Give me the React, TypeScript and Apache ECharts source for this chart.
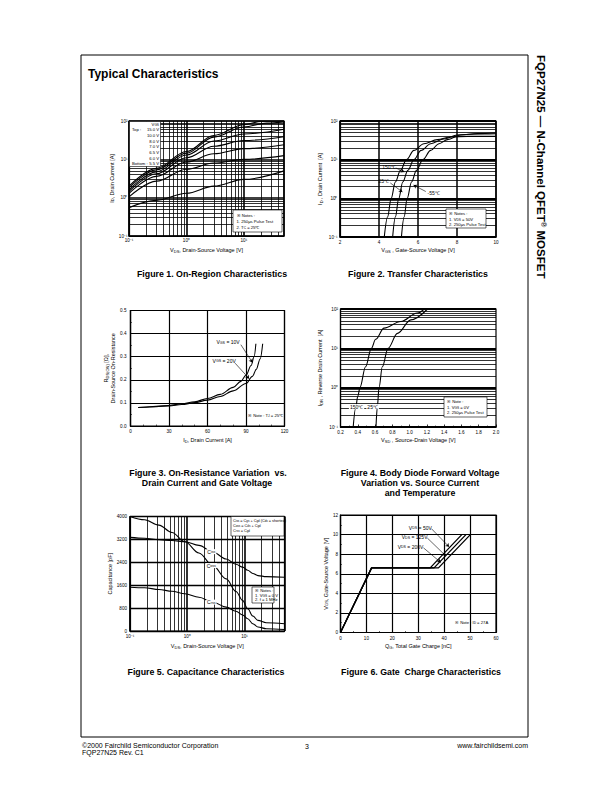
import React, { useEffect, useRef } from "react";
import * as echarts from "echarts";

const FONT = "'Liberation Sans', Arial, Helvetica, sans-serif";
const BLACK = "#000";
type Pt = [number, number];

// ===== Figure 1: On-Region Characteristics (ID vs VDS, log-log) =====
const fig1VgsLabels = ["15.0 V", "10.0 V", "8.0 V", "7.0 V", "6.5 V", "6.0 V", "5.5 V"];
const fig1Vgs15: Pt[] = [[0.1, 2.0], [0.3, 5.8], [1, 16], [3, 42], [10, 80], [20, 98], [50, 100]];
const fig1Vgs10: Pt[] = [[0.1, 1.8], [0.3, 5.3], [1, 14.5], [3, 38], [10, 70], [25, 88], [50, 95]];
const fig1Vgs8: Pt[] = [[0.1, 1.6], [0.3, 4.7], [1, 13], [3, 30], [10, 46], [50, 61]];
const fig1Vgs7: Pt[] = [[0.1, 1.45], [0.3, 4.2], [1, 11], [3, 22], [10, 31], [50, 39]];
const fig1Vgs65: Pt[] = [[0.1, 1.3], [0.3, 3.6], [1, 8.5], [3, 14], [10, 19], [50, 24]];
const fig1Vgs6: Pt[] = [[0.1, 1.05], [0.3, 2.7], [1, 5.5], [3, 8], [10, 10], [50, 12.5]];
const fig1Vgs55: Pt[] = [[0.1, 0.55], [0.3, 0.85], [1, 1.3], [3, 2.0], [10, 3.0], [50, 5.0]];

// ===== Figure 2: Transfer Characteristics (ID vs VGS) =====
const fig2T150: Pt[] = [[4.27, 0.1], [4.44, 0.33], [4.62, 0.98], [4.84, 2.64], [5.1, 5.3], [5.41, 10], [5.79, 17.4], [6.3, 25.9], [6.99, 32.9], [7.68, 38.6], [8.54, 40.1], [10, 40.1]];
const fig2T25: Pt[] = [[4.7, 0.1], [4.84, 0.33], [5.01, 0.98], [5.22, 2.64], [5.48, 5.3], [5.79, 10], [6.16, 17.4], [6.65, 25.9], [7.33, 34.2], [8.02, 43.5], [8.88, 46.1], [10, 47]];
const fig2Tm55: Pt[] = [[5.15, 0.1], [5.29, 0.33], [5.44, 0.98], [5.67, 2.64], [5.92, 5.3], [6.25, 10], [6.65, 17.4], [7.08, 25.9], [7.51, 32.9], [8.19, 43.5], [9.05, 47.1], [10, 48.9]];

// ===== Figure 3: On-Resistance vs Drain Current =====
const fig3Id10 = [6, 10, 20, 30, 40, 50, 60, 70, 80, 86, 90, 94, 96.3, 97.7];
const fig3R10 = [0.080, 0.081, 0.085, 0.089, 0.096, 0.105, 0.119, 0.137, 0.167, 0.193, 0.22, 0.262, 0.3, 0.356];
const fig3Id20 = [6, 10, 20, 30, 40, 50, 60, 70, 80, 90, 95, 98, 101, 103];
const fig3R20 = [0.080, 0.081, 0.084, 0.087, 0.093, 0.101, 0.112, 0.128, 0.152, 0.184, 0.215, 0.245, 0.29, 0.356];

// ===== Figure 4: Body Diode Forward Voltage =====
const fig4T150: Pt[] = [[0.347, 0.1], [0.375, 0.3], [0.4, 0.6], [0.425, 1], [0.49, 3.4], [0.557, 10], [0.607, 17], [0.704, 32.6], [0.898, 48], [1.09, 79], [1.17, 100]];
const fig4T25: Pt[] = [[0.611, 0.1], [0.626, 0.32], [0.646, 1], [0.684, 3.4], [0.75, 10], [0.859, 24], [1.014, 53], [1.208, 100]];

// ===== Figure 5: Capacitance =====
const fig5Vds = [0.1, 0.18, 0.32, 0.54, 0.91, 1.6, 2.8, 4.8, 7.1, 9.3, 11.4, 14, 17.2, 24, 50];
const fig5Ciss = [3270, 3240, 3190, 3160, 3119, 2990, 2760, 2516, 2330, 2230, 2120, 2010, 1936, 1900, 1878];
const fig5Coss = [4000, 3884, 3699, 3443, 3119, 2725, 2284, 1820, 1380, 1067, 777, 522, 371, 290, 255];
const fig5Crss = [1530, 1510, 1449, 1390, 1299, 1180, 1009, 835, 690, 560, 429, 255, 139, 81, 50];

// ===== Figure 6: Gate Charge =====
const fig6Vds50: Pt[] = [[0, 0], [12, 6.6], [34.6, 6.6], [46.8, 10]];
const fig6Vds125: Pt[] = [[0, 0], [12, 6.6], [36.1, 6.6], [48.4, 10]];
const fig6Vds200: Pt[] = [[0, 0], [12, 6.6], [37.8, 6.6], [50.1, 10]];

// ---------- helpers ----------
const SUP: Record<string, string> = { "-": "⁻", "0": "⁰", "1": "¹", "2": "²", "3": "³", "4": "⁴", "5": "⁵", "6": "⁶", "7": "⁷", "8": "⁸", "9": "⁹" };
function decadeLabel(v: number): string {
  const e = Math.log10(v);
  const r = Math.round(e);
  if (Math.abs(e - r) > 1e-6) return "";
  return "10" + String(r).split("").map((c) => SUP[c]).join("");
}
function logMinors(min: number, max: number): number[] {
  const out: number[] = [];
  for (let d = Math.floor(Math.log10(min)); d <= Math.ceil(Math.log10(max)); d++) {
    const base = Math.pow(10, d);
    for (let k = 2; k <= 9; k++) {
      const v = +(k * base).toPrecision(6);
      if (v > min * 1.0001 && v < max * 0.9999) out.push(v);
    }
  }
  return out;
}

const GRIDS = [
  { left: 129, top: 121, width: 155, height: 115 },
  { left: 340, top: 121, width: 156, height: 116 },
  { left: 130.5, top: 310.5, width: 154, height: 115.5 },
  { left: 340.5, top: 309, width: 155.5, height: 118 },
  { left: 130, top: 516.5, width: 154.5, height: 114.5 },
  { left: 340.5, top: 515, width: 155.5, height: 117.5 },
];

const NAME_SIZE = 5.5;
const nameStyle = {
  fontSize: NAME_SIZE,
  fontFamily: FONT,
  color: BLACK,
  lineHeight: 6.5,
  rich: {
    n: { fontSize: NAME_SIZE, fontFamily: FONT, color: BLACK, lineHeight: 6.5 },
    s: { fontSize: 4, fontFamily: FONT, color: BLACK, verticalAlign: "bottom", lineHeight: 6.5 },
  },
};
const tickLabel = { fontSize: 4.6, color: BLACK, fontFamily: FONT };
const axisLine = { show: true, onZero: false, lineStyle: { color: BLACK, width: 1.2 } };
const split = (w: number) => ({ show: true, lineStyle: { color: BLACK, width: w, type: "solid" } });
const noSplit = { show: false };
const inTick = { show: true, inside: true, length: 2.5, lineStyle: { color: BLACK, width: 0.8 } };
const minor = (n: number) => ({ show: true, splitNumber: n, length: 1.5, lineStyle: { color: BLACK, width: 0.6 } });

function xAx(i: number, o: any) {
  return { gridIndex: i, position: "bottom", nameLocation: "middle", nameTextStyle: nameStyle, axisLine, axisTick: { show: false }, splitLine: noSplit, ...o };
}
function yAx(i: number, o: any) {
  return { gridIndex: i, position: "left", nameLocation: "middle", nameTextStyle: nameStyle, axisLine, axisTick: { show: false }, splitLine: noSplit, ...o };
}

function curve(i: number, data: any[], smooth = true, width = 1.1) {
  return {
    type: "line", xAxisIndex: i, yAxisIndex: i, data, smooth: smooth ? 0.35 : false, smoothMonotone: "x",
    symbol: "none", showSymbol: false, silent: true, clip: true,
    lineStyle: { color: BLACK, width }, itemStyle: { color: BLACK },
  };
}
function gridLines(i: number, xs: number[], ys: number[], width: number) {
  return {
    type: "line", xAxisIndex: i, yAxisIndex: i, data: [], silent: true, symbol: "none",
    markLine: {
      silent: true, symbol: ["none", "none"], label: { show: false },
      lineStyle: { color: BLACK, width, type: "solid" },
      emphasis: { disabled: true },
      data: [...xs.map((v) => ({ xAxis: v })), ...ys.map((v) => ({ yAxis: v }))],
    },
  };
}
function arrows(i: number, segs: [Pt, Pt][]) {
  return {
    type: "line", xAxisIndex: i, yAxisIndex: i, data: [], silent: true, symbol: "none",
    markLine: {
      silent: true, symbol: ["none", "arrow"], symbolSize: 3.5, label: { show: false },
      lineStyle: { color: BLACK, width: 0.6, type: "solid" },
      emphasis: { disabled: true },
      data: segs.map(([a, b]) => [{ coord: a }, { coord: b }]),
    },
  };
}
const tagRich = {
  n: { fontSize: 5, fontFamily: FONT, color: BLACK },
  s: { fontSize: 3.6, fontFamily: FONT, color: BLACK, verticalAlign: "bottom" },
};
function tags(i: number, items: { coord: Pt; text: string; bg?: boolean }[]) {
  return {
    type: "line", xAxisIndex: i, yAxisIndex: i, data: [], silent: true, symbol: "none",
    markPoint: {
      silent: true, symbol: "rect", symbolSize: 1, itemStyle: { color: "rgba(0,0,0,0)" },
      label: { show: true, position: "inside", fontSize: 5, fontFamily: FONT, color: BLACK, rich: tagRich },
      data: items.map((it) => ({
        coord: it.coord, value: 0,
        label: { formatter: it.text, backgroundColor: it.bg ? "#fff" : "transparent", padding: it.bg ? [0, 1] : 0 },
      })),
    },
  };
}

// graphic helpers
const noteRich = {
  n: { fontSize: 4.2, fontFamily: FONT, fill: BLACK, color: BLACK },
  s: { fontSize: 3.2, fontFamily: FONT, fill: BLACK, color: BLACK, verticalAlign: "bottom" },
};
const smallRich = { n: { ...noteRich.n, fontSize: 3.8 }, s: { ...noteRich.s, fontSize: 2.9 } };
function gbox(x: number, y: number, w: number, h: number, stroke = true) {
  return { type: "rect", z: 100, silent: true, shape: { x, y, width: w, height: h }, style: { fill: "#fff", stroke: stroke ? BLACK : "none", lineWidth: 0.6 } };
}
function gtext(x: number, y: number, text: string, size: number, o: any = {}) {
  const align = o.align || "left";
  const va = o.va || "middle";
  return {
    type: "text", z: 101, silent: true, x, y, rotation: o.rot || 0,
    style: {
      text, fontSize: size, fontFamily: FONT, fontWeight: o.bold ? "bold" : "normal", fill: BLACK,
      align, verticalAlign: va, textAlign: align, textVerticalAlign: va, rich: o.rich,
    },
  };
}
const note = (x: number, y: number, text: string, align = "left") => gtext(x, y, text, 4.2, { rich: noteRich, align });
const CAP = 8.8;
const cap = (x: number, y: number, t: string) => gtext(x, y, t, CAP, { bold: true, align: "center" });

function buildOption() {
  const xAxis = [
    xAx(0, { type: "log", logBase: 10, min: 0.1, max: 50, axisLabel: { ...tickLabel, margin: 1.5, formatter: decadeLabel }, splitLine: split(1.6), name: "{n|V}{s|DS}{n|, Drain-Source Voltage [V]}", nameGap: 11 }),
    xAx(1, { type: "value", min: 2, max: 10, interval: 2, axisLabel: { ...tickLabel, margin: 2.5 }, splitLine: split(1.5), name: "{n|V}{s|GS}{n| , Gate-Source Voltage [V]}", nameGap: 10 }),
    xAx(2, { type: "value", min: 0, max: 120, interval: 30, axisLabel: { ...tickLabel, margin: 2.5 }, axisTick: inTick, minorTick: minor(3), splitLine: split(1.2), name: "{n|I}{s|D}{n|, Drain Current [A]}", nameGap: 11 }),
    xAx(3, { type: "value", min: 0.2, max: 2.0, interval: 0.2, axisLabel: { ...tickLabel, margin: 2.5, formatter: (v: number) => v.toFixed(1) }, axisTick: inTick, minorTick: minor(2), name: "{n|V}{s|SD}{n| , Source-Drain Voltage [V]}", nameGap: 10 }),
    xAx(4, { type: "log", logBase: 10, min: 0.1, max: 50, axisLabel: { ...tickLabel, margin: 2.5, formatter: decadeLabel }, splitLine: split(1.6), name: "{n|V}{s|DS}{n|, Drain-Source Voltage [V]}", nameGap: 12 }),
    xAx(5, { type: "value", min: 0, max: 60, interval: 10, axisLabel: { ...tickLabel, margin: 3 }, axisTick: inTick, minorTick: minor(2), splitLine: split(1.2), name: "{n|Q}{s|G}{n|, Total Gate Charge [nC]}", nameGap: 10 }),
  ];
  const yAxis = [
    yAx(0, { type: "log", logBase: 10, min: 0.1, max: 100, axisLabel: { ...tickLabel, margin: 1.5, formatter: decadeLabel }, splitLine: split(1.6), name: "{n|I}{s|D}{n|, Drain Current [A]}", nameGap: 7 }),
    yAx(1, { type: "log", logBase: 10, min: 0.1, max: 100, axisLabel: { ...tickLabel, margin: 2.5, formatter: decadeLabel }, splitLine: split(1.8), name: "{n|I}{s|D}{n| , Drain Current  [A]}", nameGap: 17 }),
    yAx(2, { type: "value", min: 0, max: 0.5, interval: 0.1, axisLabel: { ...tickLabel, margin: 4, formatter: (v: number) => v.toFixed(1) }, axisTick: inTick, minorTick: minor(2), splitLine: split(1.2), name: "{n|R}{s|DS(ON)}{n| [Ω],}\n{n|Drain-Source On-Resistance}", nameGap: 12 }),
    yAx(3, { type: "log", logBase: 10, min: 0.1, max: 100, axisLabel: { ...tickLabel, margin: 2.5, formatter: decadeLabel }, splitLine: split(1.8), name: "{n|I}{s|DR}{n| , Reverse Drain Current  [A]}", nameGap: 17 }),
    yAx(4, { type: "value", min: 0, max: 4000, interval: 800, axisLabel: { ...tickLabel, margin: 3, formatter: (v: number) => String(v) }, splitLine: split(1.3), name: "Capacitance [pF]", nameGap: 15 }),
    yAx(5, { type: "value", min: 0, max: 12, interval: 2, axisLabel: { ...tickLabel, margin: 2.5 }, axisTick: inTick, minorTick: minor(2), splitLine: split(1.2), name: "{n|V}{s|GS}{n|, Gate-Source Voltage [V]}", nameGap: 10 }),
  ];

  const series: any[] = [
    // Fig 1
    gridLines(0, logMinors(0.1, 50), logMinors(0.1, 100), 0.8),
    ...[fig1Vgs15, fig1Vgs10, fig1Vgs8, fig1Vgs7, fig1Vgs65, fig1Vgs6, fig1Vgs55].map((d, k) => ({ ...curve(0, d), name: fig1VgsLabels[k] })),
    // Fig 2
    gridLines(1, [], logMinors(0.1, 100), 0.8),
    { ...curve(1, fig2T150), name: "150°C" },
    { ...curve(1, fig2T25), name: "25°C" },
    { ...curve(1, fig2Tm55), name: "-55°C" },
    arrows(1, [[[4.86, 6.1], [5.3, 4.8]], [[4.58, 2.5], [5.2, 1.46]], [[6.4, 1.5], [5.77, 2.2]]]),
    tags(1, [
      { coord: [4.51, 6.35], text: "150℃" },
      { coord: [4.24, 2.81], text: "25℃" },
      { coord: [6.8, 1.4], text: "-55℃" },
    ]),
    // Fig 3
    { ...curve(2, fig3Id10.map((x, k) => [x, fig3R10[k]])), name: "VGS = 10V" },
    { ...curve(2, fig3Id20.map((x, k) => [x, fig3R20[k]])), name: "VGS = 20V" },
    arrows(2, [[[86, 0.352], [95, 0.275]], [[81.5, 0.272], [92.5, 0.205]]]),
    tags(2, [
      { coord: [76, 0.362], text: "{n|V}{s|GS}{n| = 10V}" },
      { coord: [73, 0.283], text: "{n|V}{s|GS}{n| = 20V}" },
    ]),
    // Fig 4
    gridLines(3, [], logMinors(0.1, 100), 0.8),
    { ...curve(3, fig4T150), name: "150°C" },
    { ...curve(3, fig4T25), name: "25°C" },
    tags(3, [
      { coord: [0.386, 0.33], text: "150℃", bg: true },
      { coord: [0.572, 0.33], text: "25℃", bg: true },
    ]),
    // Fig 5
    gridLines(4, logMinors(0.1, 50), [], 0.8),
    { ...curve(4, fig5Vds.map((x, k) => [x, fig5Ciss[k]])), name: "Ciss" },
    { ...curve(4, fig5Vds.map((x, k) => [x, fig5Coss[k]])), name: "Coss" },
    { ...curve(4, fig5Vds.map((x, k) => [x, fig5Crss[k]])), name: "Crss" },
    tags(4, [
      { coord: [2.63, 2772], text: "{n|C}{s|iss}", bg: true },
      { coord: [2.63, 2285], text: "{n|C}{s|oss}", bg: true },
      { coord: [2.63, 1009], text: "{n|C}{s|rss}", bg: true },
    ]),
    // Fig 6
    { ...curve(5, fig6Vds50, false, 1.3), name: "VDS = 50V" },
    { ...curve(5, fig6Vds125, false, 1.3), name: "VDS = 125V" },
    { ...curve(5, fig6Vds200, false, 1.3), name: "VDS = 200V" },
    arrows(5, [[[35.1, 10.6], [41.9, 8.75]], [[33.5, 9.65], [40.6, 7.83]], [[32, 8.65], [38.7, 7.15]]]),
    tags(5, [
      { coord: [30.8, 10.7], text: "{n|V}{s|DS}{n| = 50V}" },
      { coord: [28.6, 9.71], text: "{n|V}{s|DS}{n| = 125V}" },
      { coord: [27.0, 8.75], text: "{n|V}{s|DS}{n| = 200V}" },
    ]),
  ];

  const graphicEls: any[] = [
    // page frame
    { type: "rect", z: 90, silent: true, shape: { x: 81, y: 55, width: 447, height: 682 }, style: { fill: "none", stroke: BLACK, lineWidth: 1 } },
    gtext(88, 74, "Typical Characteristics", 12, { bold: true }),
    gtext(541, 55, "{b|FQP27N25 — N-Channel QFET}{r|®}{b| MOSFET}", 11.5, {
      bold: true, rot: -Math.PI / 2,
      rich: {
        b: { fontSize: 11.5, fontWeight: "bold", fontFamily: FONT, fill: BLACK, color: BLACK },
        r: { fontSize: 7.5, fontWeight: "bold", fontFamily: FONT, fill: BLACK, color: BLACK, verticalAlign: "top" },
      },
    }),
    // captions
    cap(212, 274, "Figure 1. On-Region Characteristics"),
    cap(418, 274, "Figure 2. Transfer Characteristics"),
    cap(208, 473, "Figure 3. On-Resistance Variation  vs."),
    cap(207, 483, "Drain Current and Gate Voltage"),
    cap(420, 473, "Figure 4. Body Diode Forward Voltage"),
    cap(420, 483, "Variation vs. Source Current"),
    cap(420, 493, "and Temperature"),
    cap(206, 672, "Figure 5. Capacitance Characteristics"),
    cap(421, 672, "Figure 6. Gate  Charge Characteristics"),
    // footer
    gtext(82, 745, "©2000 Fairchild Semiconductor Corporation", 7),
    gtext(82, 752, "FQP27N25 Rev. C1", 7),
    gtext(307, 746, "3", 7, { align: "center" }),
    gtext(528, 745, "www.fairchildsemi.com", 7, { align: "right" }),

    // Fig 1 legend box
    gbox(129.5, 121.5, 31, 45),
    note(159, 124.5, "{n|V}{s|GS}", "right"),
    note(132, 129.5, "{n|Top :}"),
    ...fig1VgsLabels.slice(0, 6).map((t, k) => note(159, 129.5 + k * 5.8, `{n|${t}}`, "right")),
    note(132, 163, "{n|Bottom :}"),
    note(159, 163, `{n|${fig1VgsLabels[6]}}`, "right"),
    // Fig 1 notes
    gbox(233, 210, 49, 22),
    note(236.5, 215, "{n|※ Notes :}"),
    note(236.5, 221, "{n|1. 250μs Pulse Test}"),
    note(236.5, 227, "{n|2. T}{s|C}{n| = 25℃}"),
    // Fig 2 notes
    gbox(446, 209, 40, 19),
    note(449, 213.5, "{n|※ Notes :}"),
    note(449, 219, "{n|1. V}{s|DS}{n| = 50V}"),
    note(449, 224.5, "{n|2. 250μs Pulse Test}"),
    // Fig 3 note
    note(248, 415, "{n|※ Note : T}{s|J}{n| = 25℃}"),
    // Fig 4 notes
    gbox(444, 397, 43, 20),
    note(447, 401.5, "{n|※ Note :}"),
    note(447, 407, "{n|1. V}{s|GS}{n| = 0V}"),
    note(447, 412.5, "{n|2. 250μs Pulse Test}"),
    // Fig 5 legend + notes
    gbox(231, 516.5, 53, 19.5),
    gtext(233, 520.5, "{n|C}{s|iss}{n| = C}{s|gs}{n| + C}{s|gd}{n| (C}{s|ds}{n| = shorted)}", 3.8, { rich: smallRich }),
    gtext(233, 525.5, "{n|C}{s|oss}{n| = C}{s|ds}{n| + C}{s|gd}", 3.8, { rich: smallRich }),
    gtext(233, 530.5, "{n|C}{s|rss}{n| = C}{s|gd}", 3.8, { rich: smallRich }),
    gbox(252, 587, 22, 16),
    note(255, 590.5, "{n|※ Notes :}"),
    note(255, 595, "{n|1. V}{s|GS}{n| = 0 V}"),
    note(255, 599.5, "{n|2. f = 1 MHz}"),
    // Fig 6 note
    note(455, 622, "{n|※ Note : I}{s|D}{n| = 27A}"),
  ];

  return {
    animation: false,
    backgroundColor: "#fff",
    textStyle: { fontFamily: FONT },
    grid: GRIDS.map((g) => ({ ...g, show: true, borderColor: BLACK, borderWidth: 1.2, backgroundColor: "transparent", containLabel: false, outerBoundsMode: "none" })),
    xAxis,
    yAxis,
    series,
    graphic: { elements: graphicEls },
  };
}

export default function App() {
  const ref = useRef<HTMLDivElement>(null);
  useEffect(() => {
    if (!ref.current) return;
    const chart = echarts.init(ref.current, undefined, { renderer: "svg", width: 612, height: 792 });
    chart.setOption(buildOption() as any);
    return () => chart.dispose();
  }, []);
  return <div ref={ref} style={{ position: "absolute", left: 0, top: 0, width: 612, height: 792, background: "#fff" }} />;
}
